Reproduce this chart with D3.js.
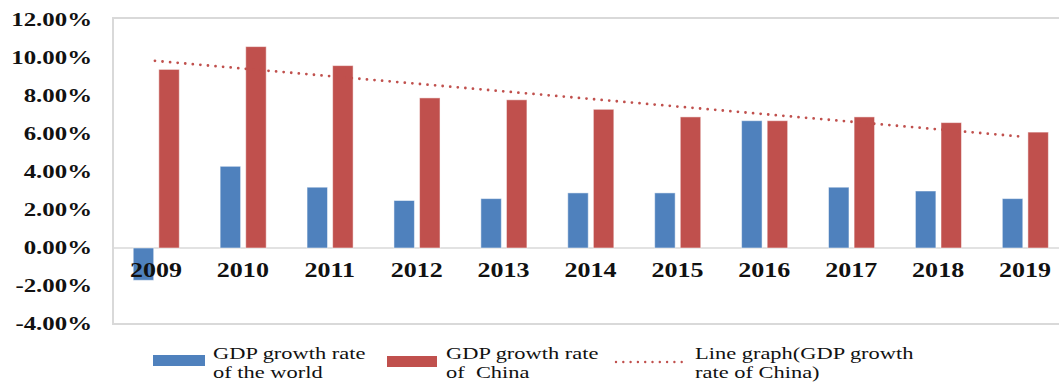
<!DOCTYPE html>
<html>
<head>
<meta charset="utf-8">
<script src="https://cdn.jsdelivr.net/npm/d3@7"></script>
<style>
  html, body { margin: 0; padding: 0; background: #fff; }
  svg { display: block; }
</style>
</head>
<body>
<svg id="chart" width="1059" height="383"></svg>
<script>
// ---- data ----
const years = ["2009","2010","2011","2012","2013","2014","2015","2016","2017","2018","2019"];
const worldGrowth = [-1.7, 4.3, 3.2, 2.5, 2.6, 2.9, 2.9, 6.7, 3.2, 3.0, 2.6];
const chinaGrowth = [9.4, 10.6, 9.6, 7.9, 7.8, 7.3, 6.9, 6.7, 6.9, 6.6, 6.1];
const trendYears = ["2009", "2019"];
const trendValues = [9.85, 5.85];
const yTicks = [-4, -2, 0, 2, 4, 6, 8, 10, 12];
const seriesKeys = ["world", "china"];
const legendLabels = [
  ["GDP growth rate", "of the world"],
  ["GDP growth rate", "of  China"],
  ["Line graph(GDP growth", "rate of China)"]
];

// ---- styles ----
const BLUE = "#4f81bd", RED = "#c0504d", GRID = "#d9d9d9";
const SERIF = "'Liberation Serif', 'Times New Roman', serif";

const svg = d3.select("#chart");

const x = d3.scaleBand().domain(years).range([111.5, 1067.5]).padding(0);
const x1 = d3.scaleBand().domain(seriesKeys)
  .range([x.bandwidth() * 0.25, x.bandwidth() * 0.78]).paddingInner(0.2);
const y = d3.scaleLinear().domain([-4, 12]).range([324, 20]);

// frame
const frame = svg.append("g");
frame.append("line").attr("x1", 113).attr("x2", 113).attr("y1", 17).attr("y2", 325)
  .attr("stroke", GRID).attr("stroke-width", 2);
frame.append("line").attr("x1", 112).attr("x2", 1059).attr("y1", 18).attr("y2", 18)
  .attr("stroke", GRID).attr("stroke-width", 2);
frame.append("line").attr("x1", 112).attr("x2", 1059).attr("y1", 324).attr("y2", 324)
  .attr("stroke", GRID).attr("stroke-width", 2);

// zero line
svg.append("line").attr("x1", 113).attr("x2", 1059)
  .attr("y1", y(0)).attr("y2", y(0))
  .attr("stroke", GRID).attr("stroke-width", 1.5);

// y axis labels
const fmt = v => v.toFixed(2) + "%";
svg.append("g").selectAll("text").data(yTicks).join("text")
  .attr("transform", d => `translate(92,${y(d)}) scale(1.38,1)`)
  .attr("dy", "0.35em")
  .attr("text-anchor", "end")
  .attr("font-family", SERIF).attr("font-weight", "bold").attr("font-size", 18)
  .attr("fill", "#111")
  .text(fmt);

// bars
const rows = years.map((yr, i) => ({ year: yr, world: worldGrowth[i], china: chinaGrowth[i] }));
const colors = { world: BLUE, china: RED };
const groups = svg.append("g").selectAll("g").data(rows).join("g")
  .attr("transform", d => `translate(${x(d.year)},0)`);
groups.selectAll("rect").data(d => seriesKeys.map(k => ({ key: k, value: d[k] }))).join("rect")
  .attr("x", d => x1(d.key))
  .attr("width", x1.bandwidth())
  .attr("y", d => y(Math.max(0, d.value)))
  .attr("height", d => Math.abs(y(d.value) - y(0)))
  .attr("fill", d => colors[d.key])
  .attr("stroke", "#ffffff").attr("stroke-opacity", 0.5).attr("stroke-width", 1);

// trend line (dotted)
const trendLine = d3.line()
  .x(d => x(d.year) + x.bandwidth() / 2)
  .y(d => y(d.value));
svg.append("path")
  .datum(trendYears.map((yr, i) => ({ year: yr, value: trendValues[i] })))
  .attr("d", trendLine)
  .attr("fill", "none")
  .attr("stroke", RED).attr("stroke-width", 2.8)
  .attr("stroke-linecap", "round")
  .attr("stroke-dasharray", "0,7.6");

// x labels
svg.append("g").selectAll("text").data(years).join("text")
  .attr("transform", d => `translate(${x(d) + x.bandwidth() / 2 + 1},277) scale(1.24,1)`)
  .attr("text-anchor", "middle")
  .attr("font-family", SERIF).attr("font-weight", "bold").attr("font-size", 21)
  .attr("fill", "#111")
  .text(d => d);

// legend
const legend = svg.append("g");
legend.append("rect").attr("x", 153).attr("y", 355).attr("width", 52).attr("height", 11).attr("fill", BLUE);
legend.append("rect").attr("x", 387).attr("y", 356).attr("width", 50).attr("height", 11).attr("fill", RED);
legend.append("line").attr("x1", 616).attr("x2", 682).attr("y1", 362).attr("y2", 362)
  .attr("stroke", RED).attr("stroke-width", 2.4).attr("stroke-linecap", "round")
  .attr("stroke-dasharray", "0,7.3");

const legendX = [213, 446, 695];
legendLabels.forEach((lines, i) => {
  lines.forEach((t, j) => {
    legend.append("text")
      .attr("transform", `translate(${legendX[i]},${359 + j * 18.5}) scale(1.36,1)`)
      .attr("font-family", SERIF).attr("font-size", 16.5)
      .attr("fill", "#111")
      .attr("xml:space", "preserve")
      .style("white-space", "pre")
      .text(t);
  });
});
</script>
</body>
</html>
